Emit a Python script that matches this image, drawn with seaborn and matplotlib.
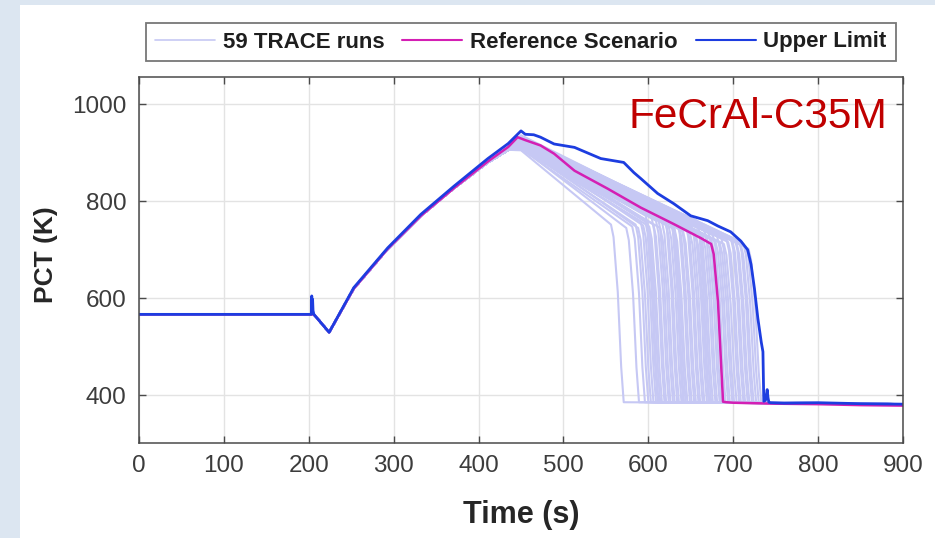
import numpy as np
import pandas as pd
import matplotlib
matplotlib.use("Agg")
import matplotlib.pyplot as plt
import seaborn as sns
from matplotlib.lines import Line2D
from matplotlib.patches import Rectangle

# ---------------- data ----------------
# shared heat-up part for the TRACE runs
rise_t = [0, 200, 204, 206, 224, 253, 293, 332, 371, 411, 435]
rise_T = [567, 567, 567, 567, 530, 620, 702, 770, 827, 880, 906]

# per-run peak (at ~450 s), quench start time and temperature at quench start
run_peak = [905, 910, 908, 912, 915, 909, 918, 913, 920, 911,
            916, 922, 914, 919, 907, 917, 923, 912, 918, 921,
            915, 910, 924, 919, 913, 908, 920, 916, 911, 925,
            918, 914, 921, 917, 912, 926, 919, 923, 915, 927,
            920, 924, 918, 928, 922, 926, 930, 925, 929, 932,
            927, 931, 934, 930, 933, 936, 921, 925, 924]
run_quench_t = [556, 574, 581, 585, 588, 591, 594, 596, 599, 601,
                604, 606, 609, 611, 614, 616, 619, 621, 624, 626,
                629, 631, 634, 636, 639, 641, 644, 646, 649, 651,
                654, 656, 659, 661, 664, 666, 669, 671, 674, 676,
                679, 681, 684, 686, 689, 692, 694, 697, 699, 702,
                704, 707, 709, 712, 715, 718, 597, 627, 657]
run_quench_T = [752, 745, 748, 752, 745, 758, 750, 762, 755, 748,
                765, 752, 760, 770, 745, 758, 766, 752, 748, 762,
                755, 742, 758, 750, 745, 738, 752, 742, 735, 748,
                738, 730, 744, 735, 728, 740, 725, 735, 722, 730,
                718, 728, 715, 724, 712, 722, 716, 725, 718, 722,
                714, 718, 710, 712, 706, 702, 770, 775, 760]
# quench drop shape (seconds after quench start, fraction of remaining superheat)
drop_dt = [0, 3, 8, 12, 15]
drop_frac = [1.0, 0.93, 0.62, 0.20, 0.0]
run_floor_start = 386
run_floor_end = 382

ref_t = [0, 200, 204, 206, 224, 253, 293, 332, 371, 411, 435, 446, 455, 473,
         489, 513, 552, 591, 630, 662, 674, 677, 682, 686, 688, 692, 700,
         750, 800, 850, 900]
ref_T = [567, 567, 567, 567, 530, 620, 702, 770, 827, 882, 912, 932, 926, 915,
         898, 863, 826, 787, 753, 724, 712, 691, 594, 455, 387, 386, 385,
         383, 382, 380, 379]

up_t = [0, 200, 203, 203.5, 204, 204.5, 205, 206, 224, 253, 293, 332, 371, 411,
        435, 450, 455, 465, 473, 489, 513, 544, 571, 583, 591, 611, 630, 650,
        670, 682, 697, 709, 717, 721, 725, 729, 733, 735, 736, 738, 740, 741,
        742, 744, 760, 800, 850, 900]
up_T = [567, 567, 567, 605, 570, 598, 575, 567, 530, 622, 704, 773, 831, 888,
        919, 945, 938, 937, 932, 918, 911, 888, 880, 859, 847, 816, 795, 770,
        760, 749, 737, 718, 700, 670, 620, 559, 510, 490, 388, 390, 412, 395,
        386, 385, 384, 385, 383, 382]

x_ticks = [0, 100, 200, 300, 400, 500, 600, 700, 800, 900]
y_ticks = [400, 600, 800, 1000]
labels = ["59 TRACE runs", "Reference Scenario", "Upper Limit"]

# ---------------- build tables ----------------
rows = []
for i in range(len(run_quench_t)):
    q, tq = run_quench_t[i], run_quench_T[i]
    ts = list(rise_t) + [450, q] + [q + d for d in drop_dt[1:]] + [900]
    Ts = list(rise_T) + [run_peak[i], tq] + \
        [run_floor_start + f * (tq - run_floor_start) for f in drop_frac[1:]] + [run_floor_end]
    for t, T in zip(ts, Ts):
        rows.append((i, t, T))
runs_df = pd.DataFrame(rows, columns=["run", "t", "T"])
ref_df = pd.DataFrame({"t": ref_t, "T": ref_T})
up_df = pd.DataFrame({"t": up_t, "T": up_T})

# ---------------- style ----------------
sns.set_theme(style="whitegrid")
plt.rcParams["font.family"] = ["Liberation Sans", "DejaVu Sans"]

c_runs = "#c6c8f4"
c_ref = "#d41fb4"
c_up = "#1d3de0"

fig = plt.figure(figsize=(9.35, 5.38), dpi=100, facecolor="#dce6f1")
fig.patches.append(Rectangle((20 / 935, 0), 1, 1 - 5 / 538, transform=fig.transFigure,
                             facecolor="white", edgecolor="none", zorder=-10))
ax = fig.add_axes([139 / 935, 95 / 538, 764 / 935, 366 / 538])
ax.set_facecolor("white")

sns.lineplot(data=runs_df, x="t", y="T", units="run", estimator=None, sort=False,
             color=c_runs, lw=1.5, ax=ax, legend=False)
sns.lineplot(data=ref_df, x="t", y="T", sort=False, estimator=None,
             color=c_ref, lw=1.8, ax=ax, legend=False)
sns.lineplot(data=up_df, x="t", y="T", sort=False, estimator=None,
             color=c_up, lw=2.0, ax=ax, legend=False)

ax.set_xlim(0, 900)
ax.set_ylim(302, 1056)
ax.set_xticks(x_ticks)
ax.set_yticks(y_ticks)
ax.grid(True, color="#e3e3e3", lw=1.0)
for s in ax.spines.values():
    s.set_color("#4a4a4a")
    s.set_linewidth(1.1)
ax.tick_params(direction="in", length=5, width=1, color="#4a4a4a",
               top=True, right=True, bottom=True, left=True,
               labelsize=17.5, labelcolor="#3c3c3c", pad=9)

ax.set_xlabel("Time (s)", fontsize=22, fontweight="bold", color="#262626")
ax.set_ylabel("PCT (K)", fontsize=19, fontweight="bold", color="#262626")
ax.xaxis.set_label_coords(0.5, (443 - 515) / 366)
ax.xaxis.label.set_va("center")
ax.yaxis.set_label_coords((46 - 139) / 764, (443 - 255) / 366)
ax.yaxis.label.set_va("center")

ax.text(0.98, 0.862, "FeCrAl-C35M", transform=ax.transAxes, ha="right", va="baseline",
        fontsize=30.5, color="#c00000", family=["Liberation Sans", "DejaVu Sans"])

handles = [Line2D([], [], color=c_runs, lw=1.2),
           Line2D([], [], color=c_ref, lw=1.5),
           Line2D([], [], color=c_up, lw=1.5)]
leg = fig.legend(handles, labels, loc="center", ncol=3,
                 bbox_to_anchor=((147 + 895) / 2 / 935, 1 - 42 / 538),
                 prop={"weight": "bold", "size": 16}, handlelength=2.7,
                 borderaxespad=0, frameon=True, fancybox=False, columnspacing=0.8,
                 handletextpad=0.35, borderpad=0.4)
leg.get_frame().set_edgecolor("#555555")
leg.get_frame().set_linewidth(1.3)
for t in leg.get_texts():
    t.set_color("#1e1e1e")

fig.savefig("out.png", dpi=100, facecolor=fig.get_facecolor())
